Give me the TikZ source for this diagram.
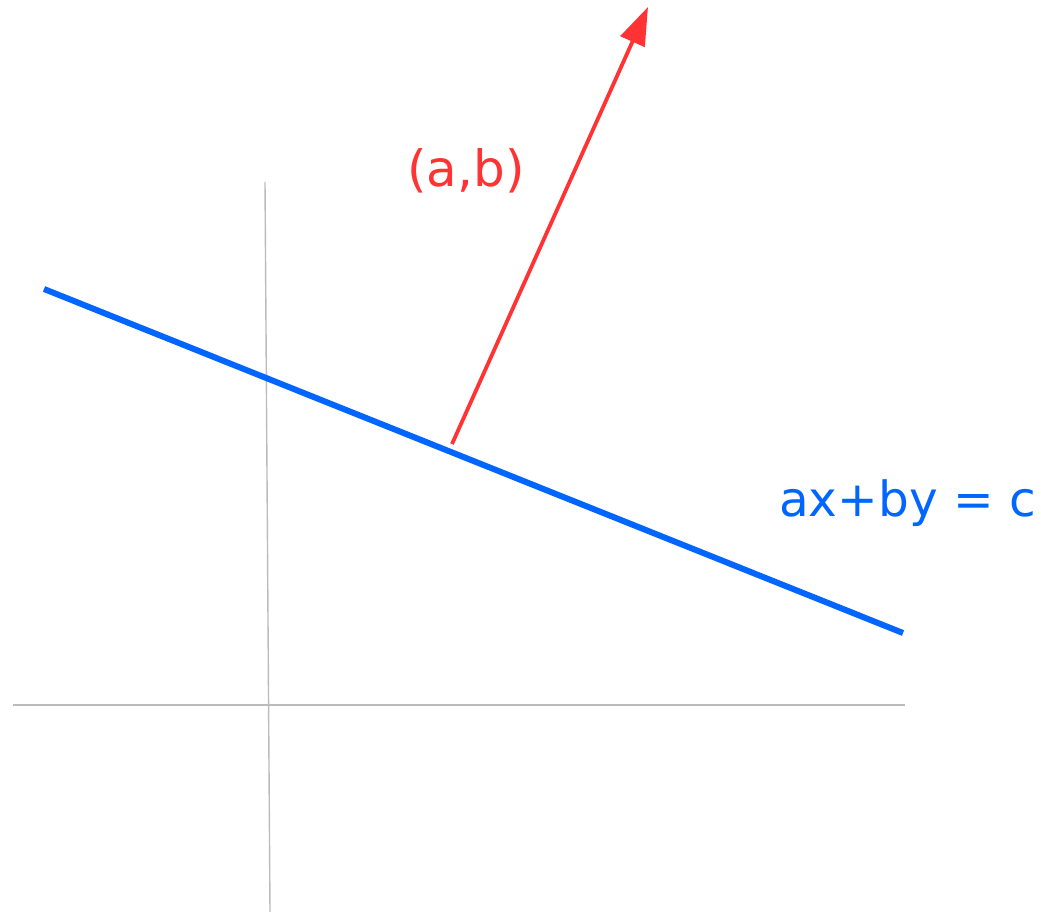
\documentclass[tikz,border=0pt]{standalone}
\usepackage{fontspec}
\setmainfont{DejaVu Sans}
\usetikzlibrary{arrows.meta}
\definecolor{axisgray}{HTML}{BBBBBB}
\definecolor{lineblue}{HTML}{0066FF}
\definecolor{vecred}{HTML}{FF3333}
\begin{document}
\begin{tikzpicture}[x=1pt,y=-1pt,
  axis/.style={draw=axisgray,line width=1.4pt},
  bluel/.style={draw=lineblue,line width=6pt},
  vec/.style={draw=vecred,line width=3.8pt,-{Triangle[length=38pt,width=26pt]}},
  lbl/.style={inner sep=0pt,anchor=base}]
\useasboundingbox (0,0) rectangle (1041,912);
\coordinate (vtop) at (265,182);
\coordinate (vbot) at (270,912);
\coordinate (hl) at (13,705);
\coordinate (hr) at (905,705);
\coordinate (ls) at (44,289);
\coordinate (le) at (903,633);
\coordinate (foot) at (452,444);
\coordinate (tip) at (648,7);
\draw[axis] (vtop) -- (vbot);
\draw[axis] (hl) -- (hr);
\draw[bluel] (ls) -- (le);
\draw[vec] (foot) -- (tip);
\node[lbl,text=vecred,font=\fontsize{50}{60}\selectfont] (ab) at (466,186) {(a,b)};
\node[lbl,text=lineblue,font=\fontsize{48.5}{58}\selectfont] (eq) at (907.5,516) {ax+by = c};
\end{tikzpicture}
\end{document}
